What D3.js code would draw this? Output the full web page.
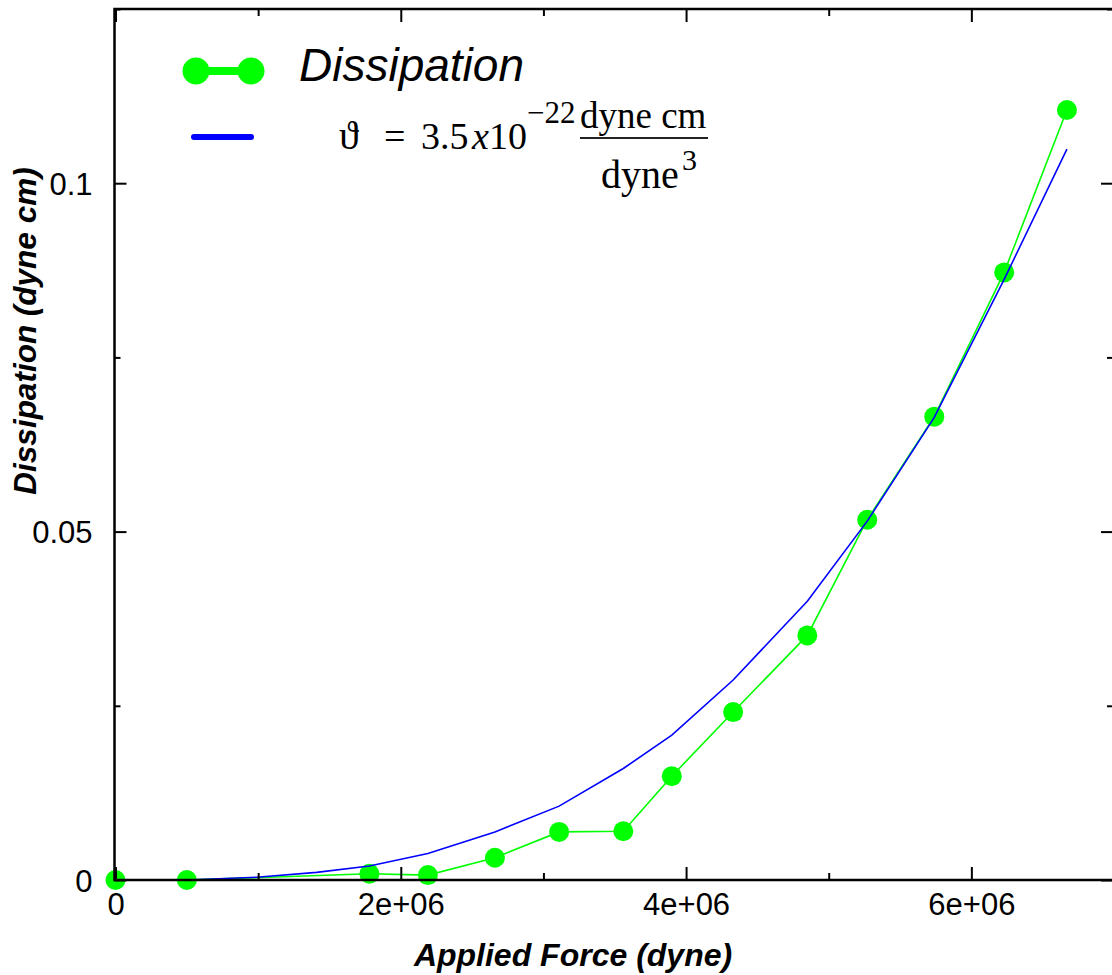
<!DOCTYPE html>
<html lang="en">
<head>
  <meta charset="UTF-8">
  <title>Dissipation vs Applied Force</title>
  <script src="https://cdn.jsdelivr.net/npm/d3@7"></script>
  <style>
    body { margin: 0; background: #fff; }
    svg { display: block; }
  </style>
</head>
<body>
<svg></svg>
<script>
  const width = 1112, height = 975

  // measured points (dyne, dyne cm)
  const forceValues = [0, 0.50e6, 1.78e6, 2.19e6, 2.66e6, 3.11e6, 3.56e6, 3.90e6, 4.33e6, 4.85e6, 5.27e6, 5.74e6, 6.23e6, 6.67e6]
  const dissipationValues = [0, 0, 0.0009, 0.0007, 0.0032, 0.0069, 0.0070, 0.0149, 0.0241, 0.0351, 0.0517, 0.0665, 0.0872, 0.1105]

  // fitted curve
  const fitForce = [0.50e6, 0.99e6, 1.41e6, 1.78e6, 2.19e6, 2.66e6, 3.11e6, 3.56e6, 3.90e6, 4.33e6, 4.85e6, 5.27e6, 5.74e6, 6.23e6, 6.67e6]
  const fitValues = [0, 0.0004, 0.0011, 0.0020, 0.0038, 0.0069, 0.0106, 0.0160, 0.0208, 0.0287, 0.0400, 0.0515, 0.0664, 0.0862, 0.1049]

  const xTicks = [0, 2e6, 4e6, 6e6]
  const xTickLabels = ['0', '2e+06', '4e+06', '6e+06']
  const xMinorTicks = [1e6, 3e6, 5e6]
  const yTicks = [0, 0.05, 0.1]
  const yTickLabels = ['0', '0.05', '0.1']
  const yMinorTicks = [0.025, 0.075, 0.125]

  const frame = {left: 114.5, right: 1114, top: 9, bottom: 880}

  const svg = d3.select('svg')
      .attr('width', width)
      .attr('height', height)
      .attr('viewBox', [0, 0, width, height])

  const x = d3.scaleLinear()
      .domain([0, 7e6])
      .range([115.5, 1114])

  const y = d3.scaleLinear()
      .domain([0, 0.125])
      .range([880, 9])

  const green = '#00ff00', blue = '#0000ff'

  const data = forceValues.map((f, i) => ({f, v: dissipationValues[i]}))
  const fit = fitForce.map((f, i) => ({f, v: fitValues[i]}))

  const line = d3.line()
      .x(d => x(d.f))
      .y(d => y(d.v))

  // data series
  svg.append('path')
      .attr('d', line(data))
      .attr('fill', 'none')
      .attr('stroke', green)
      .attr('stroke-width', 1.6)

  svg.append('g')
    .selectAll('circle')
    .data(data)
    .join('circle')
      .attr('cx', d => x(d.f))
      .attr('cy', d => y(d.v))
      .attr('r', 10)
      .attr('fill', green)

  // fit curve on top
  svg.append('path')
      .attr('d', line(fit))
      .attr('fill', 'none')
      .attr('stroke', blue)
      .attr('stroke-width', 1.6)

  // axes (ticks point inward)
  const tickFont = g => g
      .attr('font-family', 'Liberation Sans, Arial, sans-serif')
      .attr('font-size', 31)
      .call(g => g.select('.domain').remove())
      .call(g => g.selectAll('.tick line').attr('stroke', '#000').attr('stroke-width', 2))

  svg.append('g')
      .attr('transform', `translate(0,${frame.bottom})`)
      .call(d3.axisBottom(x).tickValues(xTicks).tickSize(-13).tickPadding(13)
          .tickFormat((d, i) => xTickLabels[i]))
      .call(tickFont)
      .call(g => g.selectAll('.tick text').attr('fill', '#000'))

  svg.append('g')
      .attr('transform', `translate(0,${frame.bottom})`)
      .call(d3.axisBottom(x).tickValues(xMinorTicks).tickSize(-7).tickFormat(''))
      .call(tickFont)

  svg.append('g')
      .attr('transform', `translate(0,${frame.top})`)
      .call(d3.axisTop(x).tickValues(xTicks).tickSize(-13).tickFormat(''))
      .call(tickFont)

  svg.append('g')
      .attr('transform', `translate(0,${frame.top})`)
      .call(d3.axisTop(x).tickValues(xMinorTicks).tickSize(-7).tickFormat(''))
      .call(tickFont)

  svg.append('g')
      .attr('transform', `translate(${frame.left},0)`)
      .call(d3.axisLeft(y).tickValues(yTicks).tickSize(-12).tickPadding(22)
          .tickFormat((d, i) => yTickLabels[i]))
      .call(tickFont)
      .call(g => g.selectAll('.tick text').attr('fill', '#000').attr('dy', '0.36em'))

  svg.append('g')
      .attr('transform', `translate(${frame.left},0)`)
      .call(d3.axisLeft(y).tickValues(yMinorTicks).tickSize(-6).tickFormat(''))
      .call(tickFont)

  svg.append('g')
      .attr('transform', `translate(1112,0)`)
      .call(d3.axisRight(y).tickValues(yTicks).tickSize(-11).tickFormat(''))
      .call(tickFont)

  svg.append('g')
      .attr('transform', `translate(1112,0)`)
      .call(d3.axisRight(y).tickValues(yMinorTicks).tickSize(-5).tickFormat(''))
      .call(tickFont)

  // frame
  svg.append('rect')
      .attr('x', frame.left)
      .attr('y', frame.top)
      .attr('width', frame.right - frame.left)
      .attr('height', frame.bottom - frame.top)
      .attr('fill', 'none')
      .attr('stroke', '#000')
      .attr('stroke-width', 2.5)

  // axis titles
  svg.append('text')
      .attr('x', 573)
      .attr('y', 966)
      .attr('text-anchor', 'middle')
      .attr('font-family', 'Liberation Sans, Arial, sans-serif')
      .attr('font-size', 32)
      .attr('font-weight', 'bold')
      .attr('font-style', 'italic')
      .text('Applied Force (dyne)')

  svg.append('text')
      .attr('transform', 'translate(36,331) rotate(-90)')
      .attr('text-anchor', 'middle')
      .attr('font-family', 'Liberation Sans, Arial, sans-serif')
      .attr('font-size', 31.5)
      .attr('font-weight', 'bold')
      .attr('font-style', 'italic')
      .text('Dissipation (dyne cm)')

  // legend
  const legend = svg.append('g')

  legend.append('line')
      .attr('x1', 196).attr('x2', 251)
      .attr('y1', 71).attr('y2', 71)
      .attr('stroke', green)
      .attr('stroke-width', 8)
  legend.selectAll('circle')
    .data([196, 251])
    .join('circle')
      .attr('cx', d => d)
      .attr('cy', 71)
      .attr('r', 13.5)
      .attr('fill', green)

  legend.append('text')
      .attr('x', 299)
      .attr('y', 81)
      .attr('font-family', 'Liberation Sans, Arial, sans-serif')
      .attr('font-size', 46)
      .attr('font-style', 'italic')
      .text('Dissipation')

  legend.append('line')
      .attr('x1', 194).attr('x2', 251)
      .attr('y1', 137).attr('y2', 137)
      .attr('stroke', blue)
      .attr('stroke-width', 6)
      .attr('stroke-linecap', 'round')

  const serif = 'Liberation Serif, Times New Roman, serif'
  const formula = legend.append('g')
      .attr('font-family', serif)
      .attr('fill', '#000')

  formula.append('text').attr('x', 339).attr('y', 149).attr('font-size', 40).text('ϑ')
  formula.append('text').attr('x', 384).attr('y', 149).attr('font-size', 38).text('=')
  formula.append('text').attr('x', 421).attr('y', 149).attr('font-size', 38).text('3.5')
  formula.append('text').attr('x', 472).attr('y', 149).attr('font-size', 38)
      .attr('font-style', 'italic').text('x')
  formula.append('text').attr('x', 489).attr('y', 149).attr('font-size', 38).text('10')
  formula.append('text').attr('x', 527).attr('y', 123).attr('font-size', 31).text('−22')
  formula.append('text').attr('x', 580).attr('y', 128).attr('font-size', 37).text('dyne cm')
  formula.append('line')
      .attr('x1', 580).attr('x2', 708)
      .attr('y1', 138).attr('y2', 138)
      .attr('stroke', '#222')
      .attr('stroke-width', 2)
  formula.append('text').attr('x', 601).attr('y', 188).attr('font-size', 40).text('dyne')
  formula.append('text').attr('x', 682).attr('y', 170).attr('font-size', 30).text('3')
</script>
</body>
</html>
